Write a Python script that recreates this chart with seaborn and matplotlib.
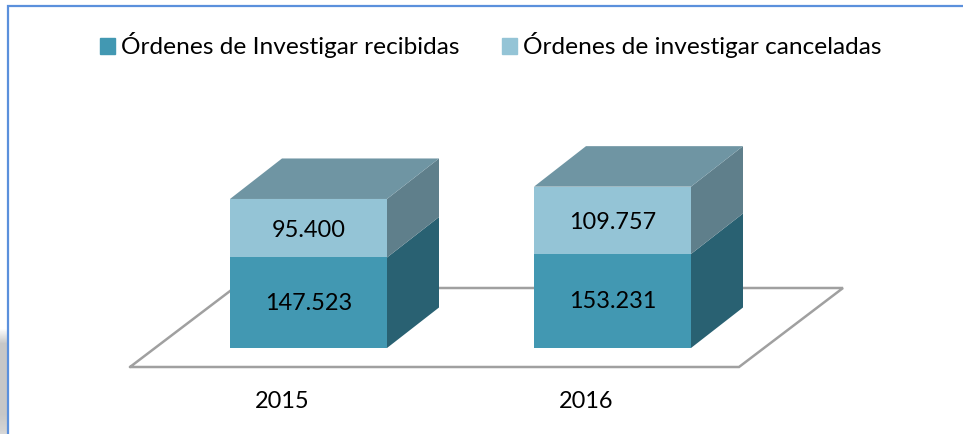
import matplotlib
matplotlib.use('Agg')
import matplotlib.pyplot as plt
import numpy as np
import pandas as pd
import seaborn as sns

years = ['2015', '2016']
recibidas = [147523, 153231]
canceladas = [95400, 109757]
recibidas_labels = ['147.523', '153.231']
canceladas_labels = ['95.400', '109.757']
legend_labels = ['Órdenes de Investigar recibidas', 'Órdenes de investigar canceladas']

W, H = 963, 434
UNITS_PER_PX = 1630
SLOT_PX = 304
BAR_W = 157 / SLOT_PX
DEPTH_X = 52 / SLOT_PX
DEPTH_Y = 40.5 * UNITS_PER_PX

DARK = '#4298B2'
LIGHT = '#94C4D6'
DARK_SIDE = '#296172'
LIGHT_SIDE = '#5F7F8B'
TOP = '#6F95A3'
FLOOR = '#A0A0A0'
FRAME = '#5B90DC'

sns.set_theme(style='white')
plt.rcParams['font.family'] = ['Lato', 'DejaVu Sans']

fig = plt.figure(figsize=(W / 100, H / 100), dpi=100)

# axes runs from the floor's front edge (px 367) up to px 120
ax = fig.add_axes([0, 1 - 367 / H, 1, (367 - 120) / H])
ax.patch.set_alpha(0)

df = pd.DataFrame({'year': years, 'recibidas': recibidas, 'canceladas': canceladas})

sns.barplot(data=df, x='year', y='recibidas', color=DARK, width=BAR_W, saturation=1,
            linewidth=0, label=legend_labels[0], ax=ax, zorder=3, legend=False)
sns.barplot(data=df, x='year', y='canceladas', bottom=df['recibidas'], color=LIGHT, width=BAR_W,
            saturation=1, linewidth=0, label=legend_labels[1], ax=ax, zorder=3, legend=False)

# barplot resets the limits, so set them afterwards
ax.set_xlim(-308.5 / SLOT_PX, (W - 308.5) / SLOT_PX)
ax.set_ylim(-19 * UNITS_PER_PX, (348 - 120) * UNITS_PER_PX)

# floor parallelogram, behind the bars
floor_y0 = -19 * UNITS_PER_PX
floor_y1 = 60 * UNITS_PER_PX
ax.plot([(130 - 308.5) / SLOT_PX, (739 - 308.5) / SLOT_PX, (843 - 308.5) / SLOT_PX,
         (234 - 308.5) / SLOT_PX, (130 - 308.5) / SLOT_PX],
        [floor_y0, floor_y0, floor_y1, floor_y1, floor_y0],
        color=FLOOR, lw=1.8, clip_on=False, zorder=1, solid_joinstyle='miter')

for i in range(len(years)):
    x1 = i + BAR_W / 2
    x0 = i - BAR_W / 2
    low = recibidas[i]
    high = recibidas[i] + canceladas[i]
    ax.fill([x1, x1 + DEPTH_X, x1 + DEPTH_X, x1], [0, DEPTH_Y, low + DEPTH_Y, low],
            color=DARK_SIDE, lw=0, zorder=2)
    ax.fill([x1, x1 + DEPTH_X, x1 + DEPTH_X, x1], [low, low + DEPTH_Y, high + DEPTH_Y, high],
            color=LIGHT_SIDE, lw=0, zorder=2)
    ax.fill([x0, x0 + DEPTH_X, x1 + DEPTH_X, x1], [high, high + DEPTH_Y, high + DEPTH_Y, high],
            color=TOP, lw=0, zorder=2)
    ax.text(i, low / 2 - 1 * UNITS_PER_PX, recibidas_labels[i], ha='center', va='center',
            fontsize=16.9, color='black', zorder=5)
    ax.text(i, low + canceladas[i] / 2 - 2 * UNITS_PER_PX, canceladas_labels[i], ha='center', va='center',
            fontsize=16.9, color='black', zorder=5)

# year labels sit left of the bars, under the floor
ax.set_xticks([i - 26 / SLOT_PX for i in range(len(years))])
ax.set_xticklabels(years, fontsize=16.9, color='black')
ax.tick_params(axis='x', length=0, pad=17.5)
ax.set_xlabel('')
ax.set_ylabel('')
ax.set_yticks([])
sns.despine(ax=ax, left=True, bottom=True)

handles = [plt.Rectangle((0, 0), 1, 1, color=DARK), plt.Rectangle((0, 0), 1, 1, color=LIGHT)]
fig.legend(handles, legend_labels, loc='center left', bbox_to_anchor=(100 / W, 1 - 45.5 / H),
           ncol=2, frameon=False, fontsize=17.6, handlelength=0.62, handleheight=0.62,
           handletextpad=0.24, columnspacing=1.72, labelcolor='black', borderpad=0, borderaxespad=0)

# page frame and grey shadow at the lower left
bg = fig.add_axes([0, 0, 1, 1], zorder=-1)
bg.axis('off')
shade = np.concatenate([np.linspace(1, 0.78, 16), np.full(70, 0.78), np.linspace(0.78, 0.84, 20)]).reshape(-1, 1)
bg.imshow(shade, extent=(0, 7, H, 328), cmap='gray', vmin=0, vmax=1, aspect='auto')
bg.plot([8, 8, W], [H, 5.5, 5.5], color=FRAME, lw=1.6, solid_joinstyle='miter')
bg.set_xlim(0, W)
bg.set_ylim(H, 0)

fig.savefig('out.png', dpi=100)
